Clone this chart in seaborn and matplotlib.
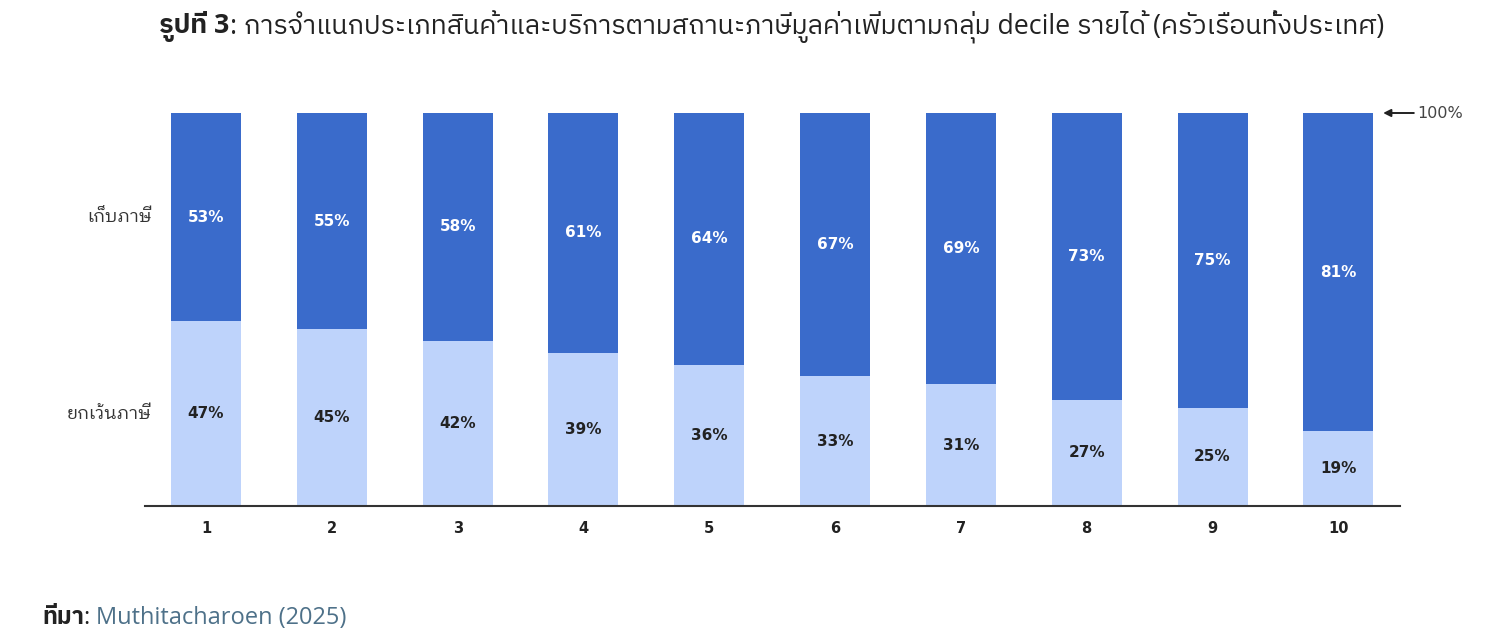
import matplotlib
matplotlib.use('Agg')
import matplotlib.pyplot as plt
import seaborn as sns
import pandas as pd

# ข้อมูล: สัดส่วนสินค้า/บริการตามสถานะภาษี VAT ตาม decile รายได้
deciles = ['1', '2', '3', '4', '5', '6', '7', '8', '9', '10']
taxed = [53, 55, 58, 61, 64, 67, 69, 73, 75, 81]
exempt = [47, 45, 42, 39, 36, 33, 31, 27, 25, 19]
seg_names = ['เก็บภาษี', 'ยกเว้นภาษี']

title_bold = 'รูปที่ 3'
title_rest = ': การจำแนกประเภทสินค้าและบริการตามสถานะภาษีมูลค่าเพิ่มตามกลุ่ม decile รายได้ (ครัวเรือนทั้งประเทศ)'
source_bold = 'ที่มา'
source_rest = 'Muthitacharoen (2025)'

dark = '#3A6BCB'
light = '#BED3FB'

sns.set_theme(style='white')
plt.rcParams['font.family'] = ['DejaVu Sans']
thai_looped = ['IBM Plex Sans Thai Looped', 'DejaVu Sans']
head_fam = ['Open Sans', 'IBM Plex Sans Thai', 'DejaVu Sans']

df = pd.DataFrame({'decile': deciles, 'taxed': taxed, 'exempt': exempt})
df['total'] = df['taxed'] + df['exempt']

fig = plt.figure(figsize=(14.88, 6.44), dpi=100)
ax = fig.add_axes([145 / 1488, 1 - 506 / 644, 1255 / 1488, 393 / 644])

sns.barplot(data=df, x='decile', y='total', color=dark, width=0.556,
            saturation=1, ax=ax, linewidth=0)
sns.barplot(data=df, x='decile', y='exempt', color=light, width=0.556,
            saturation=1, ax=ax, linewidth=0)

ax.set_xlim(-0.485, 9.49)
ax.set_ylim(0, 100)

for i, (t, e) in enumerate(zip(taxed, exempt)):
    ax.text(i, e + t / 2, f'{t}%', ha='center', va='center', color='white',
            fontsize=11, fontweight='bold')
    ax.text(i, e / 2, f'{e}%', ha='center', va='center', color='#222222',
            fontsize=11, fontweight='bold')

# ชื่อกลุ่มด้านซ้าย
ax.text(-0.43, exempt[0] + taxed[0] / 2, seg_names[0], ha='right', va='center',
        fontsize=13, color='#333333', family=thai_looped)
ax.text(-0.43, exempt[0] / 2, seg_names[1], ha='right', va='center',
        fontsize=13, color='#333333', family=thai_looped)

# ลูกศร 100%
ax.annotate('', xy=(9.356, 100), xytext=(9.6, 100), annotation_clip=False,
            arrowprops=dict(arrowstyle='-|>', color='#222222', lw=1.4,
                            shrinkA=0, shrinkB=0, mutation_scale=11))
ax.text(9.625, 100, '100%', ha='left', va='center', fontsize=11.5,
        color='#444444', clip_on=False)

ax.set_xlabel('')
ax.set_ylabel('')
ax.set_yticks([])
ax.tick_params(axis='x', length=0, pad=11)
for lab in ax.get_xticklabels():
    lab.set_fontweight('bold')
    lab.set_fontsize(10.5)
    lab.set_color('#222222')
for s in ['top', 'right', 'left']:
    ax.spines[s].set_visible(False)
ax.spines['bottom'].set_color('#333333')
ax.spines['bottom'].set_linewidth(1.5)

renderer = fig.canvas.get_renderer()


def text_row(x_px, y_px, parts, size, center=False):
    # วางข้อความหลายท่อนต่อกันในแนวนอน (หน่วยพิกเซล)
    items = [fig.text(0, 1 - y_px / 644, s, fontsize=size, va='center',
                      family=head_fam, **kw) for s, kw in parts]
    widths = [t.get_window_extent(renderer).width for t in items]
    x = x_px - sum(widths) / 2 if center else x_px
    for t, w in zip(items, widths):
        t.set_x(x / 1488)
        x += w
    return sum(widths)


title_parts = [(title_bold, dict(fontweight='bold', color='#222222')),
               (title_rest, dict(color='#222222'))]
text_row(771.5, 27, title_parts, 19.3, center=True)

text_row(42, 618, [(source_bold, dict(fontweight='bold', color='#222222')),
                   (': ', dict(color='#222222')),
                   (source_rest, dict(color='#4E7189'))], 17)

fig.savefig('out.png', dpi=100)
